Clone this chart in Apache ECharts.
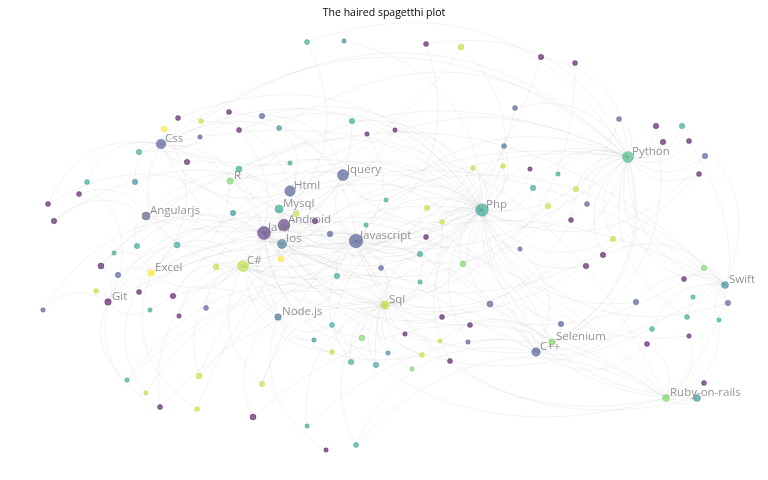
<!DOCTYPE html>
<html>
<head>
<meta charset="utf-8">
<title>The haired spagetthi plot</title>
<script src="https://cdn.jsdelivr.net/npm/echarts@6/dist/echarts.min.js"></script>
<style>
  html, body { margin: 0; padding: 0; background: #fff; }
  #main { width: 768px; height: 480px; }
</style>
</head>
<body>
<div id="main"></div>
<script>
// viridis steps used for the tag groups
const viridis = ['#440154', '#482878', '#3e4989', '#31688e', '#26828e', '#1f9e89', '#35b779', '#6ece58', '#b5de2b', '#fde725']

// labelled tags: layout position, weight, group
const tags = ['Javascript', 'Java', 'Php', 'Python', 'C#', 'Jquery', 'Html', 'Android', 'Css', 'Mysql',
  'Ios', 'Sql', 'C++', 'Angularjs', 'Node.js', 'R', 'Excel', 'Git', 'Swift', 'Ruby-on-rails', 'Selenium']
const tagX = [356, 264, 482, 628, 243, 343, 290, 284, 161, 279, 282, 385, 536, 146, 278, 230, 151, 108, 725, 666, 552]
const tagY = [241, 233, 210, 157, 266, 175, 191, 225, 144, 209, 244, 305, 352, 216, 317, 181, 273, 302, 285, 398, 342]
const tagWeight = [11, 10.5, 10, 8.5, 8.5, 8.5, 8, 9, 7, 5.5, 6.5, 6, 6, 5.5, 4, 4, 4.5, 4, 4.5, 4.5, 4]
const tagGroup = [2, 1, 5, 6, 8, 2, 2, 1, 2, 5, 3, 8, 2, 2, 3, 7, 9, 0, 4, 7, 7]

// unlabelled tags: [x, y, weight, group, linked tags]
const minorTags = [
  [307, 42, 2.5, 5, ['Python', 'Java']],
  [344, 41, 2, 4, ['Php']],
  [426, 44, 2.5, 0, ['Javascript', 'Python']],
  [461, 47, 3.5, 8, ['Css', 'Php']],
  [541, 57, 3, 0, ['Python', 'C#']],
  [575, 63, 2.5, 0, ['Sql']],
  [178, 118, 2.5, 0, ['Css', 'Php']],
  [201, 121, 2.5, 8, ['Html', 'Python']],
  [229, 112, 2.5, 0, ['Css', 'Javascript']],
  [262, 116, 3, 2, ['Jquery', 'Php']],
  [164, 129, 3.5, 9, ['Css', 'Excel']],
  [239, 130, 2.5, 0, ['Php', 'C#']],
  [200, 137, 2, 2, ['Css']],
  [279, 128, 2.5, 4, ['Html', 'Python']],
  [352, 121, 3, 5, ['Php', 'Java']],
  [367, 134, 2, 0, ['Javascript']],
  [395, 130, 2, 0, ['Angularjs', 'Php']],
  [515, 108, 2.5, 2, ['Python', 'Javascript']],
  [619, 119, 2.5, 2, ['Python', 'Php']],
  [656, 126, 3, 0, ['Python', 'C++']],
  [682, 126, 3, 5, ['Python', 'Swift']],
  [663, 142, 3, 0, ['Python']],
  [689, 141, 2.5, 0, ['Python', 'Ruby-on-rails']],
  [705, 156, 3, 2, ['Python', 'Php']],
  [699, 174, 2.5, 0, ['Python', 'Java']],
  [504, 146, 2.5, 3, ['Php', 'Javascript']],
  [473, 168, 2.5, 8, ['Php', 'Java']],
  [503, 166, 2.5, 8, ['Php', 'C#']],
  [530, 169, 2, 0, ['Php']],
  [558, 174, 2, 5, ['Python']],
  [533, 188, 3, 5, ['Php', 'Python']],
  [576, 189, 3, 8, ['Python', 'Javascript']],
  [587, 204, 2.5, 2, ['Php', 'Python']],
  [548, 206, 3, 8, ['Php', 'Java']],
  [571, 220, 2.5, 0, ['Python', 'Sql']],
  [613, 239, 3, 8, ['Python', 'Php']],
  [139, 152, 3, 5, ['Css', 'Java']],
  [187, 162, 3, 0, ['Css', 'Android']],
  [239, 169, 3.5, 5, ['R', 'Php']],
  [290, 163, 2, 5, ['Html']],
  [87, 182, 2.5, 5, ['Css', 'Git']],
  [135, 182, 3, 4, ['Css', 'Angularjs']],
  [79, 194, 2.5, 0, ['Angularjs']],
  [48, 204, 2.5, 0, ['Css', 'Java']],
  [54, 221, 3, 0, ['Angularjs', 'Javascript']],
  [233, 213, 3, 4, ['Java', 'Php']],
  [296, 214, 3.5, 8, ['Mysql', 'Php']],
  [315, 221, 3, 0, ['Android', 'Javascript']],
  [366, 225, 2, 5, ['Javascript']],
  [330, 234, 3, 2, ['Javascript', 'Java']],
  [386, 200, 2, 5, ['Php', 'Jquery']],
  [427, 208, 3, 8, ['Php', 'Javascript']],
  [442, 222, 2.5, 8, ['Php', 'Sql']],
  [426, 237, 2.5, 0, ['Javascript', 'Php']],
  [281, 259, 3.5, 9, ['Ios', 'C#']],
  [216, 267, 3.5, 8, ['C#', 'Java']],
  [337, 276, 3, 5, ['Javascript', 'C#']],
  [381, 268, 2.5, 2, ['Javascript', 'Sql']],
  [420, 254, 3, 5, ['Php', 'Javascript']],
  [420, 282, 2, 5, ['Sql', 'Php']],
  [463, 264, 3.5, 7, ['Php', 'C#']],
  [520, 249, 2, 2, ['Php', 'C++']],
  [603, 255, 3, 0, ['Python', 'Swift']],
  [586, 266, 3, 0, ['Php', 'Java']],
  [137, 246, 3, 5, ['Angularjs', 'Java']],
  [177, 245, 3.5, 5, ['C#', 'Css']],
  [114, 253, 2, 5, ['Excel']],
  [101, 266, 3.5, 0, ['Git', 'Java', 'Php']],
  [118, 275, 3, 2, ['Excel', 'C#']],
  [96, 291, 2.5, 8, ['Git']],
  [139, 292, 2.5, 0, ['Excel', 'Sql']],
  [173, 296, 3, 0, ['C#', 'Php']],
  [43, 310, 2, 2, ['Git', 'Java']],
  [150, 310, 2, 5, ['Git', 'Node.js']],
  [179, 316, 2, 0, ['C#']],
  [206, 308, 2.5, 2, ['C#', 'Javascript']],
  [332, 325, 2.5, 5, ['Node.js', 'Php']],
  [314, 340, 2, 4, ['Node.js']],
  [362, 338, 3.5, 7, ['Sql', 'Java']],
  [332, 352, 2.5, 8, ['Sql', 'C#']],
  [351, 362, 3, 5, ['Sql', 'Javascript']],
  [376, 365, 3, 5, ['Sql', 'Php']],
  [490, 304, 3.5, 2, ['Php', 'C++', 'Java']],
  [442, 317, 2.5, 0, ['Sql', 'Php']],
  [470, 325, 2.5, 0, ['C++', 'Javascript']],
  [405, 334, 2, 0, ['Sql']],
  [440, 341, 2, 8, ['Sql', 'Selenium']],
  [468, 342, 2, 2, ['Php']],
  [388, 353, 2, 4, ['Sql', 'Java']],
  [422, 355, 2.5, 8, ['Sql', 'C#']],
  [450, 361, 2.5, 0, ['C++', 'Php']],
  [412, 369, 2, 7, ['Sql']],
  [561, 324, 3, 2, ['C++', 'Php']],
  [636, 302, 3, 2, ['Swift', 'Php', 'C++']],
  [652, 329, 2.5, 5, ['Swift', 'Java']],
  [647, 344, 2.5, 0, ['Ruby-on-rails', 'C++']],
  [684, 279, 2.5, 0, ['Swift', 'Python']],
  [704, 268, 3, 7, ['Swift', 'Javascript']],
  [728, 303, 3, 2, ['Swift', 'Php']],
  [693, 297, 2, 5, ['Swift']],
  [687, 317, 2.5, 5, ['Swift', 'Python']],
  [719, 320, 2, 5, ['Swift', 'Ruby-on-rails']],
  [689, 336, 2, 0, ['Ruby-on-rails', 'Php']],
  [704, 383, 2.5, 0, ['Ruby-on-rails']],
  [697, 398, 4.5, 4, ['Ruby-on-rails', 'Javascript', 'Php']],
  [127, 380, 2, 5, ['Git', 'Sql', 'Selenium']],
  [199, 376, 3.5, 8, ['C#', 'Php', 'Swift']],
  [262, 384, 3, 8, ['C#', 'Sql', 'Python']],
  [146, 393, 2, 8, ['Excel', 'Sql']],
  [160, 407, 2.5, 0, ['Git', 'C#', 'C++']],
  [197, 409, 2.5, 8, ['Excel', 'Python']],
  [253, 417, 3.5, 0, ['Node.js', 'Ruby-on-rails']],
  [307, 426, 2, 5, ['Sql', 'Ruby-on-rails']],
  [356, 445, 2.5, 5, ['C++', 'Sql', 'Ruby-on-rails']],
  [326, 450, 2, 0, ['Node.js']]
]

// links between the labelled tags
const tagLinks = [
  ['Javascript', 'Jquery'], ['Javascript', 'Html'], ['Javascript', 'Css'], ['Javascript', 'Php'],
  ['Javascript', 'Java'], ['Javascript', 'Angularjs'], ['Javascript', 'Node.js'], ['Javascript', 'C#'],
  ['Javascript', 'Python'], ['Javascript', 'Sql'], ['Javascript', 'Mysql'], ['Javascript', 'Android'],
  ['Html', 'Css'], ['Html', 'Jquery'], ['Html', 'Php'], ['Css', 'Jquery'], ['Css', 'Php'],
  ['Php', 'Mysql'], ['Php', 'Jquery'], ['Php', 'Sql'], ['Php', 'Java'], ['Php', 'Python'],
  ['Php', 'C#'], ['Php', 'Android'], ['Java', 'Android'], ['Java', 'C#'], ['Java', 'Sql'],
  ['Java', 'Mysql'], ['Java', 'C++'], ['Java', 'Python'], ['Android', 'Ios'], ['Android', 'Mysql'],
  ['Ios', 'Swift'], ['Ios', 'C#'], ['C#', 'Sql'], ['C#', 'Excel'], ['C#', 'C++'], ['Python', 'R'],
  ['Python', 'C++'], ['Python', 'Selenium'], ['Java', 'Selenium'], ['Ruby-on-rails', 'Javascript'],
  ['Ruby-on-rails', 'Php'], ['Git', 'Javascript'], ['Sql', 'Mysql'], ['Excel', 'Sql'],
  ['Angularjs', 'Node.js'], ['Angularjs', 'Html'], ['Swift', 'Python'], ['R', 'Excel'],
  ['Git', 'Java'], ['Node.js', 'Mysql'], ['C++', 'Selenium'], ['Jquery', 'Mysql'],
  ['Html', 'Mysql'], ['Css', 'Java'], ['Python', 'Sql'], ['Excel', 'Python'], ['Git', 'Ruby-on-rails'],
  ['Swift', 'Java'], ['Css', 'Python'], ['Angularjs', 'Swift'], ['Ruby-on-rails', 'Java'],
  ['R', 'Selenium'], ['Excel', 'C++'], ['Git', 'Swift'], ['Css', 'Ruby-on-rails']
]

const nodes = []
const links = []

minorTags.forEach(function (t, i) {
  const name = 'tag' + i
  nodes.push({
    name: name,
    value: [t[0], t[1]],
    symbolSize: 2.5 + t[2],
    itemStyle: { color: viridis[t[3]], borderColor: viridis[t[3]] }
  })
  t[4].forEach(function (target) {
    links.push({ source: name, target: target })
  })
})

tags.forEach(function (name, i) {
  nodes.push({
    name: name,
    value: [tagX[i], tagY[i]],
    symbolSize: 2.5 + tagWeight[i],
    itemStyle: { color: viridis[tagGroup[i]], borderColor: viridis[tagGroup[i]] }
  })
})

tagLinks.forEach(function (l) {
  links.push({ source: l[0], target: l[1] })
})

// tag names drawn on top of every node
const tagLabels = tags.map(function (name, i) {
  return { name: name, value: [tagX[i], tagY[i]] }
})

const chart = echarts.init(document.getElementById('main'))
chart.setOption({
  animation: false,
  backgroundColor: '#fff',
  title: {
    text: 'The haired spagetthi plot',
    left: 'center',
    top: 3,
    textStyle: { fontSize: 10.5, fontWeight: 'normal', color: '#000', fontFamily: 'Open Sans' }
  },
  grid: { left: 0, right: 0, top: 0, bottom: 0 },
  xAxis: { type: 'value', min: 0, max: 768, show: false },
  yAxis: { type: 'value', min: 0, max: 480, inverse: true, show: false },
  series: [{
    type: 'graph',
    coordinateSystem: 'cartesian2d',
    data: nodes,
    links: links,
    itemStyle: { opacity: 0.6, borderWidth: 0.6 },
    lineStyle: { color: '#999', width: 0.6, opacity: 0.2, curveness: 0.4 },
    label: { show: false },
    emphasis: { disabled: true }
  }, {
    type: 'scatter',
    data: tagLabels,
    symbolSize: 0,
    z: 5,
    silent: true,
    label: {
      show: true,
      position: 'inside',
      align: 'left',
      verticalAlign: 'middle',
      offset: [4, -5],
      color: '#777',
      fontSize: 11.5,
      fontFamily: 'Open Sans',
      textBorderWidth: 0,
      formatter: '{b}'
    },
    emphasis: { disabled: true }
  }]
})
</script>
</body>
</html>
